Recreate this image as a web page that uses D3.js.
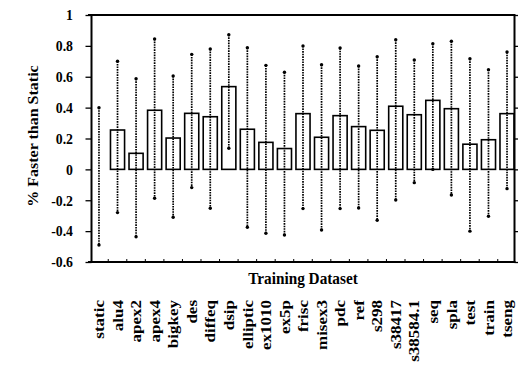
<!DOCTYPE html>
<html>
<head>
<meta charset="utf-8">
<script src="https://cdn.jsdelivr.net/npm/d3@7/dist/d3.min.js"></script>
<style>
  html, body { margin: 0; padding: 0; background: #fff; }
  svg { display: block; }
  text { font-family: "Liberation Serif", "DejaVu Serif", serif; font-weight: bold; fill: #000; }
</style>
</head>
<body>
<svg id="chart" width="518" height="366"></svg>
<script>
// Training datasets along the x axis
const categories = ["static", "alu4", "apex2", "apex4", "bigkey", "des", "diffeq", "dsip",
  "elliptic", "ex1010", "ex5p", "frisc", "misex3", "pdc", "ref", "s298", "s38417",
  "s38584.1", "seq", "spla", "test", "train", "tseng"];

// Mean speed-up over the static configuration
const meanValues = [0.0, 0.255, 0.104, 0.383, 0.203, 0.363, 0.341, 0.536,
  0.26, 0.175, 0.135, 0.361, 0.208, 0.348, 0.277, 0.253, 0.409,
  0.354, 0.447, 0.393, 0.163, 0.192, 0.361];

// Range (max / min) of the speed-up for each dataset
const maxValues = [0.40, 0.70, 0.587, 0.845, 0.605, 0.745, 0.78, 0.872,
  0.788, 0.674, 0.629, 0.80, 0.678, 0.786, 0.67, 0.73, 0.84,
  0.709, 0.814, 0.83, 0.717, 0.646, 0.76];
const minValues = [-0.49, -0.28, -0.436, -0.187, -0.31, -0.118, -0.252, 0.137,
  -0.375, -0.414, -0.425, -0.254, -0.393, -0.254, -0.25, -0.33, -0.198,
  -0.086, 0.0, -0.166, -0.40, -0.304, -0.125];

const yTicks = [-0.6, -0.4, -0.2, 0, 0.2, 0.4, 0.6, 0.8, 1];
const yTickLabels = ["-0.6", "-0.4", "-0.2", "0", "0.2", "0.4", "0.6", "0.8", "1"];

const svg = d3.select("#chart");
const plotLeft = 91.5, plotRight = 514.5, plotTop = 15, plotBottom = 262;

const x = d3.scaleBand()
  .domain(categories)
  .range([89.7, 516.3])
  .paddingInner(0.24)
  .paddingOuter(0.12);

const y = d3.scaleLinear().domain([-0.6, 1]).range([plotBottom, plotTop]);

const rows = categories.map((c, i) => ({ c, v: meanValues[i], hi: maxValues[i], lo: minValues[i] }));

// Bars
svg.append("g").selectAll("rect").data(rows).join("rect")
  .attr("x", d => x(d.c))
  .attr("width", x.bandwidth())
  .attr("y", d => y(Math.max(0, d.v)))
  .attr("height", d => Math.abs(y(d.v) - y(0)))
  .attr("fill", "#fff")
  .attr("stroke", "#000")
  .attr("stroke-width", 1.6);

// Dotted range lines with small end dots
const err = svg.append("g");
err.selectAll("line").data(rows).join("line")
  .attr("x1", d => x(d.c) + x.bandwidth() / 2)
  .attr("x2", d => x(d.c) + x.bandwidth() / 2)
  .attr("y1", d => y(d.hi))
  .attr("y2", d => y(d.lo))
  .attr("stroke", "#000")
  .attr("stroke-width", 1.7)
  .attr("stroke-dasharray", "1.6,1");
err.selectAll("circle.hi").data(rows).join("circle").attr("class", "hi")
  .attr("cx", d => x(d.c) + x.bandwidth() / 2).attr("cy", d => y(d.hi)).attr("r", 1.7).attr("fill", "#000");
err.selectAll("circle.lo").data(rows).join("circle").attr("class", "lo")
  .attr("cx", d => x(d.c) + x.bandwidth() / 2).attr("cy", d => y(d.lo)).attr("r", 1.7).attr("fill", "#000");

// Frame
const frame = svg.append("g").attr("stroke", "#000").attr("stroke-width", 2);
frame.append("line").attr("x1", 88).attr("x2", plotRight + 1).attr("y1", plotTop).attr("y2", plotTop);
frame.append("line").attr("x1", 88).attr("x2", plotRight + 1).attr("y1", plotBottom).attr("y2", plotBottom);
frame.append("line").attr("x1", plotLeft).attr("x2", plotLeft).attr("y1", plotTop).attr("y2", plotBottom);
frame.append("line").attr("x1", plotRight).attr("x2", plotRight).attr("y1", plotTop).attr("y2", plotBottom);

// Left axis ticks and labels
const yAxis = svg.append("g").attr("transform", `translate(${plotLeft},0)`)
  .call(d3.axisLeft(y).tickValues(yTicks).tickSize(6).tickFormat(""));
yAxis.select(".domain").remove();
yAxis.selectAll(".tick line").attr("stroke", "#000").attr("stroke-width", 1.3);

svg.append("g").selectAll("text").data(yTicks).join("text")
  .attr("transform", d => `translate(73,${y(d)}) scale(0.92,1)`)
  .attr("text-anchor", "end")
  .attr("dy", "0.35em")
  .style("font-size", "15px")
  .text((d, i) => yTickLabels[i]);

// Right axis ticks (outward)
const yAxisR = svg.append("g").attr("transform", `translate(${plotRight},0)`)
  .call(d3.axisRight(y).tickValues(yTicks).tickSize(5).tickFormat(""));
yAxisR.select(".domain").remove();
yAxisR.selectAll(".tick line").attr("stroke", "#000").attr("stroke-width", 1.3);

// Small category ticks on the bottom edge
svg.append("g").selectAll("line").data(categories.slice(1)).join("line")
  .attr("x1", d => x(d) - x.step() * x.paddingInner() / 2)
  .attr("x2", d => x(d) - x.step() * x.paddingInner() / 2)
  .attr("y1", plotBottom).attr("y2", plotBottom - 3)
  .attr("stroke", "#000").attr("stroke-width", 1);

// Axis titles
svg.append("text")
  .attr("transform", "translate(38,136) scale(0.92,1) rotate(-90)")
  .attr("text-anchor", "middle")
  .style("font-size", "16px")
  .text("% Faster than Static");

svg.append("text")
  .attr("transform", "translate(303,284) scale(0.9,1)")
  .attr("text-anchor", "middle")
  .style("font-size", "17px")
  .text("Training Dataset");

// Category labels, rotated
svg.append("g").selectAll("text").data(categories).join("text")
  .attr("transform", d => `translate(${x(d) + x.bandwidth() / 2},300) scale(0.87,1) rotate(-90)`)
  .attr("text-anchor", "end")
  .attr("dy", "0.35em")
  .style("font-size", "17px")
  .text(d => d);
</script>
</body>
</html>
